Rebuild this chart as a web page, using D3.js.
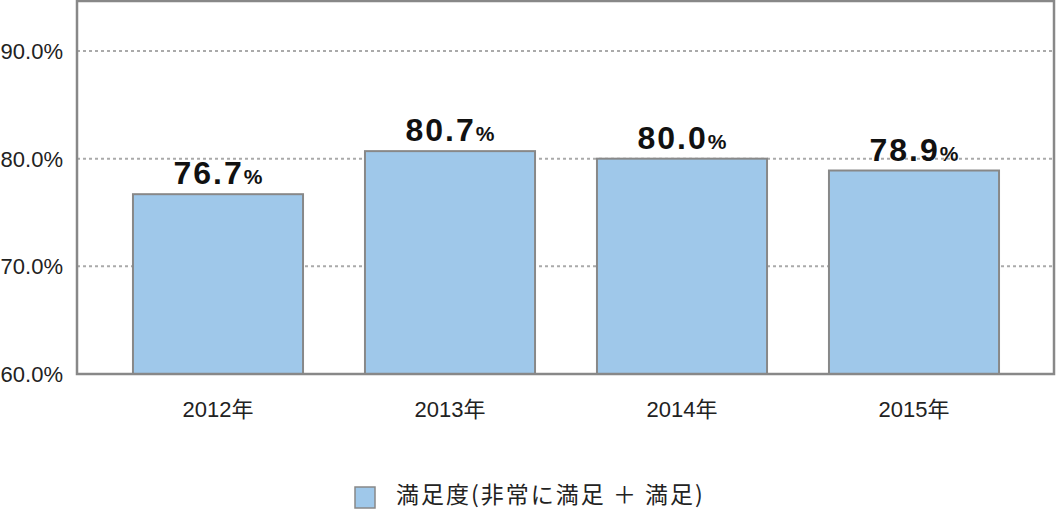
<!DOCTYPE html>
<html><head><meta charset="utf-8">
<script src="https://cdn.jsdelivr.net/npm/d3@7"></script>
<style>body{margin:0;background:#fff}svg{display:block}</style>
</head><body>
<svg id="c" width="1056" height="510"></svg>
<script>
const categories = ["2012年","2013年","2014年","2015年"];
const values = [76.7, 80.7, 80.0, 78.9];
const yTicks = [60, 70, 80, 90];
const legendLabel = "満足度(非常に満足 ＋ 満足)";

const svg = d3.select("#c");
const plot = {left:77, right:1054, top:1, bottom:374};
const y = d3.scaleLinear().domain([60,90]).range([374,51]);
const x = d3.scaleBand().domain(categories).range([102,1030]).padding(0);
const barW = x.bandwidth()*0.733;
const font = "'Liberation Sans', Arial, 'Noto Sans CJK JP', sans-serif";

// gridlines
svg.append("g").selectAll("line").data(yTicks.filter(d=>d>60)).join("line")
  .attr("x1",plot.left).attr("x2",plot.right)
  .attr("y1",d=>y(d)).attr("y2",d=>y(d))
  .attr("stroke","#aaa").attr("stroke-width",2).attr("stroke-dasharray","3,3");

// bars
svg.append("g").selectAll("rect").data(values).join("rect")
  .attr("x",(d,i)=>x(categories[i])+(x.bandwidth()-barW)/2)
  .attr("width",barW)
  .attr("y",d=>y(d))
  .attr("height",d=>y(60)-y(d))
  .attr("fill","#9fc8ea").attr("stroke","#888").attr("stroke-width",2);

// frame
svg.append("rect").attr("x",plot.left).attr("y",plot.top)
  .attr("width",plot.right-plot.left).attr("height",plot.bottom-plot.top)
  .attr("fill","none").attr("stroke","#888").attr("stroke-width",2.5);

// y tick labels
svg.append("g").selectAll("text").data(yTicks).join("text")
  .attr("x",63).attr("y",d=>y(d)+8)
  .attr("text-anchor","end").attr("font-family",font).attr("font-size",22).attr("fill","#222")
  .text(d=>d.toFixed(1)+"%");

// x labels
svg.append("g").selectAll("text").data(categories).join("text")
  .attr("x",d=>x(d)+x.bandwidth()/2).attr("y",417)
  .attr("text-anchor","middle").attr("font-family",font).attr("font-size",22).attr("fill","#222")
  .text(d=>d);

// value labels
const vl = svg.append("g").selectAll("text").data(values).join("text")
  .attr("x",(d,i)=>x(categories[i])+x.bandwidth()/2).attr("y",d=>y(d)-10)
  .attr("text-anchor","middle").attr("font-family",font).attr("font-weight","bold").attr("fill","#111");
vl.append("tspan").attr("font-size",32).attr("letter-spacing",2).text(d=>d.toFixed(1));
vl.append("tspan").attr("font-size",21).text("%");

// legend
svg.append("rect").attr("x",355).attr("y",487).attr("width",20).attr("height",21)
  .attr("fill","#9fc8ea").attr("stroke","#888").attr("stroke-width",1.5);
svg.append("text").attr("x",396).attr("y",503)
  .attr("font-family","'Noto Sans CJK JP', sans-serif").attr("font-size",23).attr("letter-spacing",2).attr("fill","#222")
  .text(legendLabel);
</script>
</body></html>
